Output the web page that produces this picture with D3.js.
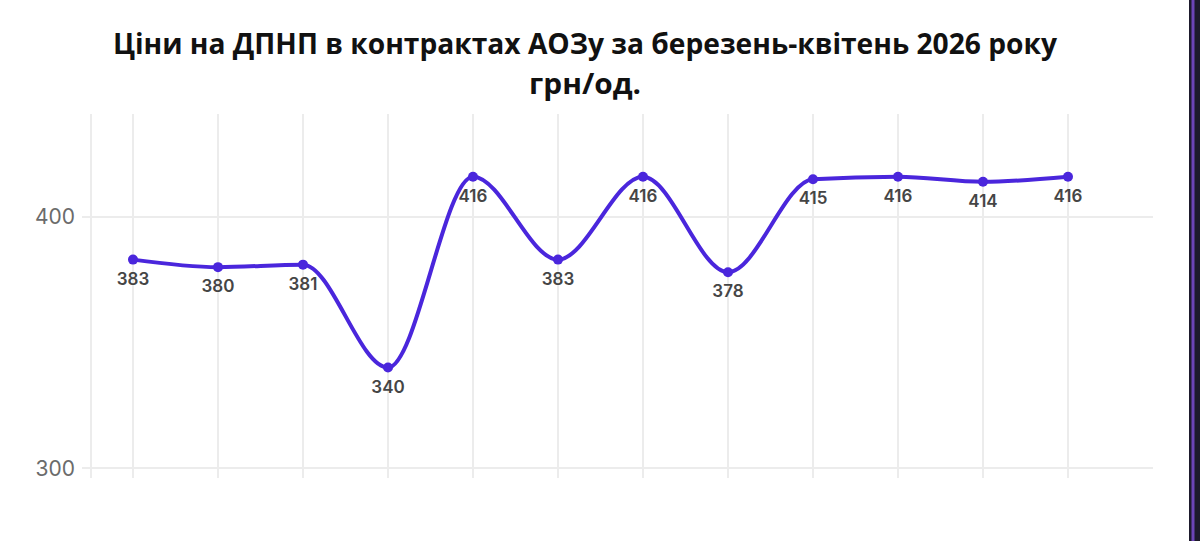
<!DOCTYPE html>
<html>
<head>
<meta charset="utf-8">
<script src="https://cdn.jsdelivr.net/npm/d3@7"></script>
<style>
  body { margin: 0; background: #fff; }
  svg { display: block; }
  .chart-title { font-family: "Open Sans", sans-serif; font-weight: 700; font-size: 29px; fill: #111; }
  .tick-label { font-family: Inter, sans-serif; font-size: 21px; fill: #6b6b6b; }
  .value-label { font-family: Inter, sans-serif; font-weight: 600; font-size: 17px; fill: #454545; }
  .grid { stroke: #ececec; stroke-width: 2; }
</style>
</head>
<body>
<div id="chart"></div>
<script>
// data
const TITLE_LINES = ["Ціни на ДПНП в контрактах АОЗу за березень-квітень 2026 року", "грн/од."];
const TITLE_WIDTHS = [944, 112];
const POINTS = ["1", "2", "3", "4", "5", "6", "7", "8", "9", "10", "11", "12"];
const PRICES = [383, 380, 381, 340, 416, 383, 416, 378, 415, 416, 414, 416];
const Y_TICKS = [300, 400];

const W = 1200;
const H = 541;

const svg = d3.select("#chart")
  .append("svg")
  .attr("width", W)
  .attr("height", H);

// scales
const x = d3.scalePoint().domain(POINTS).range([133, 1068]);
const y = d3.scaleLinear().domain([300, 441]).range([468, 114]);

// title
svg.selectAll("text.chart-title")
  .data(TITLE_LINES)
  .enter()
  .append("text")
  .attr("class", "chart-title")
  .attr("x", 585)
  .attr("y", (d, i) => 54 + i * 40)
  .attr("text-anchor", "middle")
  .attr("textLength", (d, i) => TITLE_WIDTHS[i])
  .attr("lengthAdjust", "spacingAndGlyphs")
  .text((d) => d);

// grid
const grid = svg.append("g");
grid.selectAll("line.v")
  .data([91].concat(POINTS.map((p) => x(p))))
  .enter()
  .append("line")
  .attr("class", "grid")
  .attr("x1", (d) => d)
  .attr("x2", (d) => d)
  .attr("y1", y(441))
  .attr("y2", y(300) + 10);

grid.selectAll("line.h")
  .data(Y_TICKS)
  .enter()
  .append("line")
  .attr("class", "grid")
  .attr("x1", 82)
  .attr("x2", 1153)
  .attr("y1", (d) => y(d))
  .attr("y2", (d) => y(d));

svg.selectAll("text.tick-label")
  .data(Y_TICKS)
  .enter()
  .append("text")
  .attr("class", "tick-label")
  .attr("x", 75)
  .attr("y", (d) => y(d))
  .attr("dy", "0.36em")
  .attr("text-anchor", "end")
  .text((d) => d);

// line
const line = d3.line()
  .x((d, i) => x(POINTS[i]))
  .y((d) => y(d))
  .curve(d3.curveMonotoneX);

svg.append("path")
  .datum(PRICES)
  .attr("d", line)
  .attr("fill", "none")
  .attr("stroke", "#4a26dc")
  .attr("stroke-width", 4)
  .attr("stroke-linecap", "round");

svg.selectAll("circle.pt")
  .data(PRICES)
  .enter()
  .append("circle")
  .attr("cx", (d, i) => x(POINTS[i]))
  .attr("cy", (d) => y(d))
  .attr("r", 5)
  .attr("fill", "#4a26dc");

svg.selectAll("text.value-label")
  .data(PRICES)
  .enter()
  .append("text")
  .attr("class", "value-label")
  .attr("x", (d, i) => x(POINTS[i]))
  .attr("y", (d) => y(d) + 25)
  .attr("text-anchor", "middle")
  .text((d) => d);

// right edge frame
svg.append("rect").attr("x", 1189).attr("y", 0).attr("width", 11).attr("height", H).attr("fill", "#1d1a2c");
svg.append("rect").attr("x", 1191.5).attr("y", 0).attr("width", 3).attr("height", H).attr("fill", "#6c44b6");
</script>
</body>
</html>
